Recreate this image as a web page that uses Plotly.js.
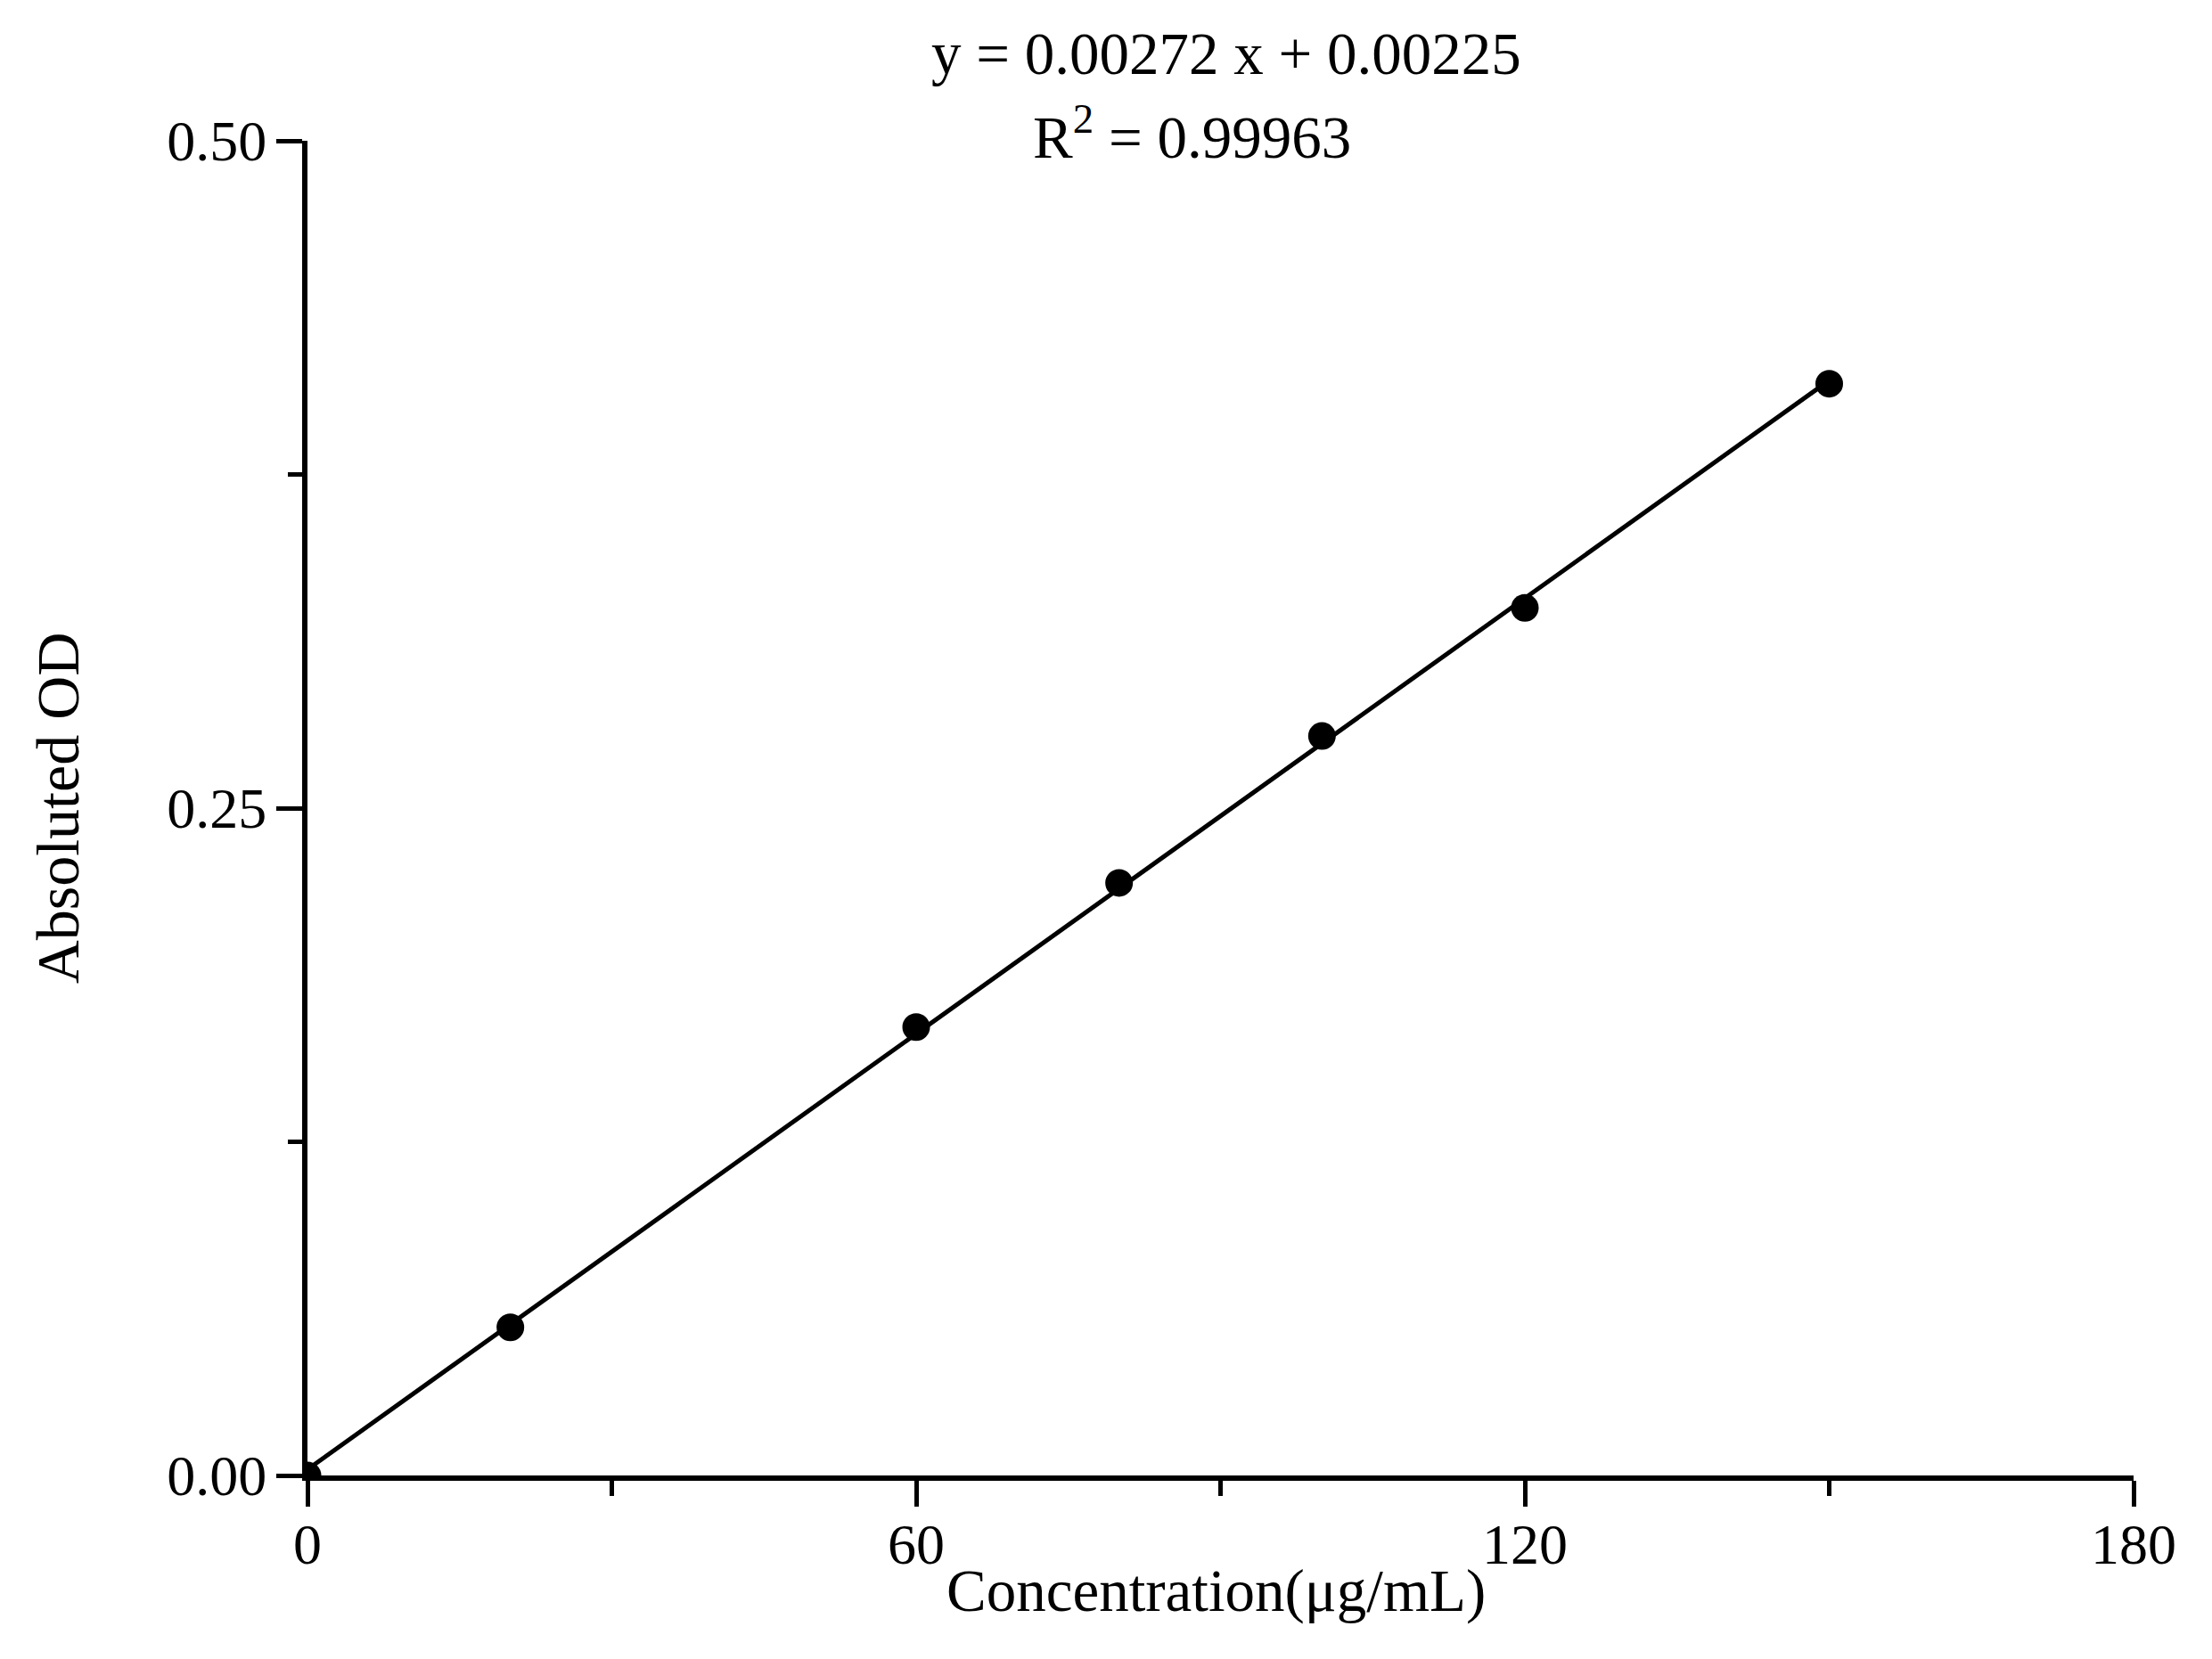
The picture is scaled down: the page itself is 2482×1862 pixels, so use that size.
<!DOCTYPE html>
<html>
<head>
<meta charset="utf-8">
<script src="https://cdn.plot.ly/plotly-3.0.1.min.js"></script>
<style>html,body{margin:0;padding:0;background:#fff;}#chart{width:2482px;height:1862px;}</style>
</head>
<body>
<div id="chart"></div>
<script>
// Measured standard points
const concentration = [0, 20, 60, 80, 100, 120, 150];
const absorbance = [0, 0.0555, 0.168, 0.222, 0.277, 0.325, 0.409];
// Fitted line end points (from y = 0.00272 x + 0.00225)
const fitX = [0, 150];
const fitY = [0.00225, 0.41025];
// Text
const equationText = 'y = 0.00272 x + 0.00225';
const r2Text = 'R<sup>2</sup> = 0.99963';
const xTitle = 'Concentration(μg/mL)';
const yTitle = 'Absoluted OD';
const xTickVals = [0, 60, 120, 180];
const yTickVals = [0, 0.25, 0.5];

const font = 'Liberation Serif, Times New Roman, serif';

const traces = [
  {x: fitX, y: fitY, mode: 'lines', type: 'scatter',
   line: {color: '#000', width: 5}, hoverinfo: 'skip', showlegend: false},
  {x: concentration, y: absorbance, mode: 'markers', type: 'scatter',
   marker: {color: '#000', size: 31, symbol: 'circle'}, showlegend: false}
];

const axisCommon = {
  showgrid: false, zeroline: false, showline: true, linecolor: '#000', linewidth: 6,
  ticks: 'outside', ticklen: 29, tickwidth: 5, tickcolor: '#000',
  tickfont: {family: font, size: 64, color: '#000'}, mirror: false
};

const layout = {
  width: 2482, height: 1862,
  paper_bgcolor: '#fff', plot_bgcolor: '#fff',
  margin: {l: 345, r: 88, t: 158, b: 206},
  font: {family: font, color: '#000'},
  xaxis: Object.assign({}, axisCommon, {
    range: [0, 180], tickvals: xTickVals, ticktext: xTickVals.map(String),
    ticklabelstandoff: -13,
    minor: {dtick: 30, tick0: 0, ticks: 'outside', ticklen: 17, tickwidth: 5, tickcolor: '#000', showgrid: false}
  }),
  yaxis: Object.assign({}, axisCommon, {
    range: [0, 0.5], tickvals: yTickVals, ticktext: yTickVals.map(v => v.toFixed(2)),
    ticklabelstandoff: -2,
    minor: {dtick: 0.125, tick0: 0, ticks: 'outside', ticklen: 16, tickwidth: 5, tickcolor: '#000', showgrid: false},
    title: {text: yTitle, font: {family: font, size: 68, color: '#000'}, standoff: 78}
  }),
  annotations: [
    {text: equationText, xref: 'paper', yref: 'paper', x: 0.503, y: 1.0654,
     xanchor: 'center', yanchor: 'middle', showarrow: false,
     font: {family: font, size: 67, color: '#000'}},
    {text: r2Text, xref: 'paper', yref: 'paper', x: 0.4846, y: 1.006,
     xanchor: 'center', yanchor: 'middle', showarrow: false,
     font: {family: font, size: 67, color: '#000'}},
    {text: xTitle, xref: 'paper', yref: 'paper', x: 0.4976, y: 0, yshift: -129,
     xanchor: 'center', yanchor: 'middle', showarrow: false,
     font: {family: font, size: 67, color: '#000'}}
  ]
};

Plotly.newPlot('chart', traces, layout, {staticPlot: true, displayModeBar: false});
</script>
</body>
</html>
